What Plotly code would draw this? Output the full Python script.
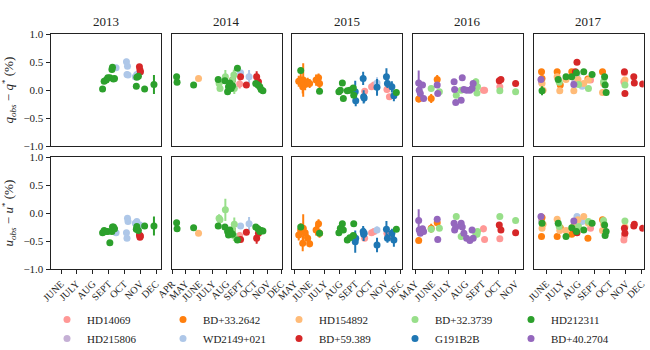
import plotly.graph_objects as go
from plotly.subplots import make_subplots

# ---------------- data ----------------
years = [2013, 2014, 2015, 2016, 2017]
year_ranges = [["2013-05-12", "2013-12-10"], ["2014-03-31", "2014-12-02"],
               ["2015-04-27", "2015-12-05"], ["2016-04-26", "2016-11-14"],
               ["2017-05-08", "2017-12-05"]]
year_tick_months = [[6, 7, 8, 9, 10, 11, 12], [4, 5, 6, 7, 8, 9, 10, 11, 12],
                    [5, 6, 7, 8, 9, 10, 11, 12], [5, 6, 7, 8, 9, 10, 11],
                    [6, 7, 8, 9, 10, 11, 12]]
month_names = {4: "APR", 5: "MAY", 6: "JUNE", 7: "JULY", 8: "AUG", 9: "SEPT",
               10: "OCT", 11: "NOV", 12: "DEC"}
y_ticks = [-1.0, -0.5, 0.0, 0.5, 1.0]

# HD14069
hd14069_dates = ["2014-08-30", "2015-09-20", "2015-10-04", "2015-10-09", "2015-11-04", "2015-11-09",
                 "2016-09-03", "2016-09-05", "2016-10-03", "2017-08-25", "2017-10-28", "2017-10-29"]
hd14069_q = [0.11, -0.02, 0.06, 0.09, 0.01, -0.12, 0.0, 0.0, 0.06, 0.18, 0.15, 0.31]
hd14069_qe = [0.08, 0.05, 0.05, 0.05, 0.05, 0.05, 0.04, 0.04, 0.04, 0.04, 0.05, 0.05]
hd14069_u = [-0.40, -0.45, -0.35, -0.33, -0.36, -0.43, -0.28, -0.47, -0.46, -0.27, -0.48, -0.41]
hd14069_ue = [0.05, 0.05, 0.05, 0.05, 0.05, 0.05, 0.06, 0.04, 0.04, 0.04, 0.05, 0.05]

# HD215806
hd215806_dates = ["2017-05-23", "2017-07-25"]
hd215806_q = [0.14, 0.13]
hd215806_qe = [0.04, 0.04]
hd215806_u = [-0.14, -0.22]
hd215806_ue = [0.04, 0.04]

# BD+33.2642
bd33_dates = ["2015-05-10", "2015-05-14", "2015-05-18", "2015-05-19", "2015-05-23", "2015-05-28",
              "2015-06-01", "2015-06-14", "2015-06-19", "2015-06-21",
              "2016-05-07", "2016-05-30", "2016-06-10",
              "2017-05-23", "2017-05-24", "2017-06-22", "2017-06-28", "2017-07-20", "2017-08-20", "2017-09-17"]
bd33_q = [0.16, 0.18, 0.06, 0.18, 0.10, 0.14, 0.12, 0.18, 0.22, 0.12,
          -0.16, -0.15, 0.19,
          0.33, 0.21, 0.33, 0.09, 0.33, 0.20, 0.33]
bd33_qe = [0.10, 0.12, 0.12, 0.30, 0.10, 0.08, 0.08, 0.10, 0.08, 0.10,
           0.06, 0.08, 0.08,
           0.04, 0.04, 0.04, 0.04, 0.04, 0.04, 0.04]
bd33_u = [-0.39, -0.30, -0.54, -0.27, -0.35, -0.45, -0.55, -0.30, -0.19, -0.36,
          -0.49, -0.27, -0.17,
          -0.42, -0.08, -0.42, -0.26, -0.38, -0.45, -0.12]
bd33_ue = [0.10, 0.12, 0.14, 0.25, 0.10, 0.08, 0.06, 0.10, 0.08, 0.08,
           0.05, 0.08, 0.04,
           0.04, 0.07, 0.04, 0.04, 0.04, 0.04, 0.04]

# WD2149+021
wd2149_dates = ["2013-09-15", "2013-10-05", "2013-10-06", "2013-10-07", "2013-10-08", "2013-10-22",
                "2013-10-25", "2013-10-31", "2014-09-01", "2014-09-20", "2015-10-15",
                "2017-07-30", "2017-08-09"]
wd2149_q = [0.40, 0.51, 0.28, 0.43, 0.27, 0.24, 0.28, 0.32, 0.31, 0.24, 0.13, 0.27, 0.07]
wd2149_qe = [0.05, 0.05, 0.05, 0.05, 0.05, 0.05, 0.05, 0.05, 0.05, 0.12, 0.10, 0.04, 0.04]
wd2149_u = [-0.35, -0.35, -0.45, -0.09, -0.15, -0.18, -0.15, -0.21, -0.23, -0.19, -0.30, -0.06, -0.15]
wd2149_ue = [0.05, 0.05, 0.05, 0.05, 0.05, 0.05, 0.05, 0.05, 0.05, 0.12, 0.06, 0.04, 0.04]

# HD154892
hd154892_dates = ["2014-05-30", "2017-05-24", "2017-05-26", "2017-06-22", "2017-06-27", "2017-07-09",
                  "2017-07-24", "2017-08-01", "2017-08-12", "2017-08-21", "2017-09-17", "2017-09-19",
                  "2017-10-30"]
hd154892_q = [0.21, 0.12, 0.00, 0.24, -0.01, 0.19, -0.01, 0.19, 0.12, 0.18, -0.04, 0.12, 0.18]
hd154892_qe = [0.03, 0.04, 0.04, 0.04, 0.04, 0.04, 0.04, 0.04, 0.04, 0.04, 0.04, 0.04, 0.04]
hd154892_u = [-0.36, -0.27, -0.20, -0.11, -0.31, -0.31, -0.22, -0.12, -0.06, -0.18, -0.31, -0.20, -0.25]
hd154892_ue = [0.03, 0.04, 0.04, 0.04, 0.04, 0.04, 0.04, 0.04, 0.04, 0.04, 0.04, 0.04, 0.04]

# BD+59.389
bd59_dates = ["2013-10-30", "2013-10-31", "2013-11-01",
              "2014-08-14", "2014-09-01", "2014-09-14", "2014-10-07", "2014-10-11",
              "2016-10-02", "2016-10-05", "2016-11-01",
              "2017-07-27", "2017-07-30", "2017-10-29", "2017-10-30", "2017-11-16", "2017-11-17", "2017-12-03"]
bd59_q = [0.42, 0.36, 0.33, 0.18, 0.24, 0.09, 0.24, 0.15, 0.17, 0.19, 0.12,
          0.33, 0.50, 0.33, -0.06, 0.24, 0.13, 0.11]
bd59_qe = [0.05, 0.05, 0.05, 0.05, 0.05, 0.05, 0.10, 0.05, 0.04, 0.04, 0.04,
           0.04, 0.04, 0.04, 0.04, 0.04, 0.04, 0.04]
bd59_u = [-0.39, -0.43, -0.41, -0.30, -0.47, -0.34, -0.45, -0.36, -0.21, -0.30, -0.35,
          -0.30, -0.35, -0.27, -0.36, -0.23, -0.20, -0.27]
bd59_ue = [0.05, 0.05, 0.05, 0.05, 0.05, 0.05, 0.10, 0.05, 0.05, 0.05, 0.04,
           0.04, 0.04, 0.05, 0.05, 0.04, 0.04, 0.04]

# BD+32.3739
bd32_dates = ["2014-07-15", "2014-07-17", "2014-07-29", "2014-08-14", "2014-08-17", "2014-08-18",
              "2016-05-30", "2016-06-14", "2016-07-15", "2016-07-24", "2016-08-20", "2016-08-22",
              "2016-08-23", "2016-10-03", "2016-11-01",
              "2017-06-26", "2017-08-02", "2017-08-21", "2017-09-19", "2017-10-30"]
bd32_q = [0.12, 0.03, 0.24, 0.18, 0.27, 0.03,
          0.03, -0.03, -0.09, 0.00, 0.15, -0.05, 0.06, -0.01, -0.03,
          0.14, 0.10, 0.03, 0.15, 0.09]
bd32_qe = [0.06, 0.05, 0.12, 0.05, 0.10, 0.10,
           0.05, 0.05, 0.05, 0.05, 0.06, 0.05, 0.05, 0.04, 0.04,
           0.04, 0.04, 0.04, 0.04, 0.04]
bd32_u = [-0.09, -0.12, 0.06, -0.30, -0.40, -0.20,
          -0.29, -0.27, -0.06, -0.42, -0.37, -0.38, -0.33, -0.06, -0.13,
          -0.24, -0.24, -0.15, -0.13, -0.14]
bd32_ue = [0.07, 0.05, 0.20, 0.05, 0.10, 0.12,
           0.05, 0.05, 0.05, 0.06, 0.06, 0.05, 0.05, 0.04, 0.04,
           0.04, 0.04, 0.04, 0.04, 0.04]

# G191B2B
g191_dates = ["2015-09-01", "2015-09-02", "2015-09-17", "2015-09-18", "2015-09-19", "2015-10-15",
              "2015-11-03", "2015-11-05", "2015-11-14", "2015-11-18"]
g191_q = [-0.03, -0.19, 0.21, -0.12, -0.14, 0.05, 0.24, 0.12, 0.06, -0.10]
g191_qe = [0.20, 0.10, 0.12, 0.12, 0.08, 0.15, 0.15, 0.08, 0.10, 0.10]
g191_u = [-0.51, -0.45, -0.33, -0.38, -0.36, -0.57, -0.29, -0.45, -0.36, -0.48]
g191_ue = [0.20, 0.08, 0.10, 0.12, 0.08, 0.13, 0.15, 0.08, 0.08, 0.12]

# HD212311
hd212311_dates = ["2013-08-20", "2013-08-23", "2013-08-27", "2013-08-30", "2013-09-03", "2013-09-07",
                  "2013-09-08", "2013-09-10", "2013-09-12", "2013-10-24", "2013-10-25", "2013-10-28",
                  "2013-11-09", "2013-11-27",
                  "2014-04-11", "2014-04-12", "2014-05-19", "2014-07-13", "2014-07-28", "2014-08-03",
                  "2014-08-05", "2014-08-08", "2014-08-11", "2014-08-14", "2014-08-25", "2014-10-05",
                  "2014-10-10", "2014-10-14", "2014-10-17", "2014-10-21",
                  "2015-05-14", "2015-06-21", "2015-07-30", "2015-08-02", "2015-08-06", "2015-08-08",
                  "2015-08-16", "2015-08-21", "2015-08-28", "2015-08-29", "2015-11-23",
                  "2017-05-24", "2017-06-24", "2017-07-09", "2017-07-20", "2017-07-29", "2017-08-12",
                  "2017-08-28", "2017-09-21", "2017-09-22", "2017-09-24"]
hd212311_q = [0.02, 0.16, 0.18, 0.22, 0.22, 0.37, 0.41, 0.20, 0.21, 0.07, 0.23, 0.25, 0.02, 0.10,
              0.24, 0.14, 0.09, 0.19, 0.17, -0.03, 0.06, 0.13, 0.03, 0.08, 0.39, 0.12, 0.09, 0.06, 0.01, -0.01,
              0.35, -0.02, -0.03, 0.00, 0.13, -0.15, -0.01, 0.00, 0.04, -0.09, -0.04,
              -0.01, 0.19, 0.24, 0.24, 0.31, 0.33, 0.28, 0.24, 0.09, -0.04]
hd212311_qe = [0.04, 0.04, 0.04, 0.04, 0.04, 0.05, 0.06, 0.04, 0.04, 0.05, 0.04, 0.04, 0.04, 0.17,
               0.04, 0.04, 0.03, 0.04, 0.04, 0.04, 0.04, 0.04, 0.04, 0.04, 0.04, 0.04, 0.04, 0.04, 0.04, 0.04,
               0.05, 0.04, 0.04, 0.04, 0.04, 0.04, 0.04, 0.04, 0.04, 0.04, 0.04,
               0.08, 0.04, 0.04, 0.04, 0.04, 0.04, 0.04, 0.05, 0.05, 0.05]
hd212311_u = [-0.35, -0.31, -0.33, -0.33, -0.53, -0.33, -0.25, -0.25, -0.28, -0.29, -0.24, -0.31, -0.23, -0.23,
              -0.17, -0.28, -0.26, -0.23, -0.25, -0.33, -0.39, -0.30, -0.36, -0.38, -0.48, -0.25, -0.28, -0.33,
              -0.31, -0.32,
              -0.25, -0.36, -0.35, -0.27, -0.19, -0.30, -0.48, -0.44, -0.40, -0.19, -0.29,
              -0.18, -0.18, -0.42, -0.26, -0.33, -0.30, -0.18, -0.21, -0.40, -0.33]
hd212311_ue = [0.04, 0.04, 0.04, 0.04, 0.05, 0.04, 0.04, 0.04, 0.04, 0.04, 0.04, 0.04, 0.04, 0.17,
               0.03, 0.03, 0.03, 0.04, 0.04, 0.04, 0.04, 0.04, 0.04, 0.04, 0.04, 0.04, 0.04, 0.04, 0.04, 0.04,
               0.04, 0.04, 0.04, 0.04, 0.04, 0.04, 0.04, 0.04, 0.04, 0.04, 0.04,
               0.05, 0.04, 0.04, 0.04, 0.04, 0.04, 0.04, 0.05, 0.05, 0.05]

# BD+40.2704
bd40_dates = ["2016-05-07", "2016-05-08", "2016-05-10", "2016-05-14", "2016-05-16", "2016-06-10",
              "2016-06-11", "2016-07-11", "2016-07-12", "2016-07-14", "2016-07-24", "2016-07-26",
              "2016-07-29", "2016-08-03", "2016-08-09", "2016-08-13", "2016-08-15",
              "2017-05-22", "2017-07-24"]
bd40_q = [0.13, 0.00, -0.06, 0.09, -0.15, 0.09, -0.06, 0.15, 0.01, -0.22, -0.18, 0.22,
          0.01, 0.00, 0.00, 0.03, 0.12, 0.19, 0.10]
bd40_qe = [0.22, 0.05, 0.05, 0.05, 0.05, 0.04, 0.04, 0.04, 0.04, 0.04, 0.04, 0.04,
           0.04, 0.04, 0.04, 0.04, 0.04, 0.04, 0.04]
bd40_u = [-0.13, -0.30, -0.36, -0.28, -0.33, -0.11, -0.47, -0.18, -0.30, -0.25, -0.18, -0.25,
          -0.36, -0.45, -0.49, -0.30, -0.45, -0.06, -0.14]
bd40_ue = [0.20, 0.05, 0.05, 0.05, 0.05, 0.04, 0.04, 0.04, 0.04, 0.04, 0.04, 0.04,
           0.04, 0.04, 0.04, 0.04, 0.04, 0.04, 0.04]

star_names = ["HD14069", "HD215806", "BD+33.2642", "WD2149+021", "HD154892",
              "BD+59.389", "BD+32.3739", "G191B2B", "HD212311", "BD+40.2704"]
star_colors = ["#ff9896", "#c5b0d5", "#ff7f0e", "#aec7e8", "#ffbb78",
               "#d62728", "#98df8a", "#1f77b4", "#2ca02c", "#9467bd"]
legend_ranks = [1, 6, 2, 7, 3, 8, 4, 9, 5, 10]
star_data = [
    (hd14069_dates, hd14069_q, hd14069_qe, hd14069_u, hd14069_ue),
    (hd215806_dates, hd215806_q, hd215806_qe, hd215806_u, hd215806_ue),
    (bd33_dates, bd33_q, bd33_qe, bd33_u, bd33_ue),
    (wd2149_dates, wd2149_q, wd2149_qe, wd2149_u, wd2149_ue),
    (hd154892_dates, hd154892_q, hd154892_qe, hd154892_u, hd154892_ue),
    (bd59_dates, bd59_q, bd59_qe, bd59_u, bd59_ue),
    (bd32_dates, bd32_q, bd32_qe, bd32_u, bd32_ue),
    (g191_dates, g191_q, g191_qe, g191_u, g191_ue),
    (hd212311_dates, hd212311_q, hd212311_qe, hd212311_u, hd212311_ue),
    (bd40_dates, bd40_q, bd40_qe, bd40_u, bd40_ue),
]

# ---------------- figure ----------------
W, H = 650, 350
FONT = "Liberation Serif"
fig = make_subplots(rows=2, cols=5)

col_px = [(50.7, 160.7), (171.7, 281.7), (292.3, 402.3), (412.7, 522.7), (533.7, 643.7)]
row_px = [(34.3, 146.0), (157.3, 269.0)]

for si, name in enumerate(star_names):
    dates, q, qe, u, ue = star_data[si]
    color = star_colors[si]
    first = True
    for ri, (vals, errs) in enumerate([(q, qe), (u, ue)]):
        for ci, yr in enumerate(years):
            idx = [k for k, d in enumerate(dates) if d.startswith(str(yr))]
            if not idx:
                continue
            fig.add_trace(go.Scatter(
                x=[dates[k] for k in idx], y=[vals[k] for k in idx],
                mode="markers", name=name, legendgroup=name,
                legendrank=legend_ranks[si], showlegend=first,
                marker=dict(color=color, size=7, line=dict(width=0)),
                error_y=dict(type="data", array=[errs[k] for k in idx],
                             color=color, thickness=2, width=0),
            ), row=ri + 1, col=ci + 1)
            first = False

for ri in range(2):
    for ci in range(5):
        n = ri * 5 + ci + 1
        xa = "xaxis" if n == 1 else f"xaxis{n}"
        ya = "yaxis" if n == 1 else f"yaxis{n}"
        x0, x1 = col_px[ci]
        y0, y1 = row_px[ri]
        yr = years[ci]
        tv = [f"{yr}-{m:02d}-01" for m in year_tick_months[ci]]
        tt = [month_names[m] for m in year_tick_months[ci]]
        fig.layout[xa].update(
            domain=[x0 / W, x1 / W], type="date", range=year_ranges[ci],
            showgrid=False, zeroline=False, showline=True, mirror=True,
            linecolor="#222", linewidth=1.3,
            tickmode="array", tickvals=tv, ticktext=tt,
            ticks="outside" if ri == 1 else "", ticklen=4, tickwidth=1, tickcolor="#222",
            showticklabels=(ri == 1), tickangle=-45,
            tickfont=dict(family=FONT, size=10, color="#222"),
        )
        fig.layout[ya].update(
            domain=[1 - y1 / H, 1 - y0 / H], range=[-1, 1],
            showgrid=False, zeroline=False, showline=True, mirror=True,
            linecolor="#222", linewidth=1.3,
            tickmode="array", tickvals=y_ticks, tickformat=".1f",
            ticks="outside" if ci == 0 else "", ticklen=4, tickwidth=1, tickcolor="#222",
            showticklabels=(ci == 0),
            tickfont=dict(family=FONT, size=11, color="#222"),
        )
        if ci == 0:
            ttl = ("<i>q</i><sub><i>obs</i></sub> − <i>q</i><sup>*</sup> (%)" if ri == 0
                   else "<i>u</i><sub><i>obs</i></sub> − <i>u</i><sup>*</sup> (%)")
            fig.layout[ya].update(title=dict(text=ttl, standoff=6,
                                             font=dict(family=FONT, size=13, color="#222")))

for ci, yr in enumerate(years):
    x0, x1 = col_px[ci]
    fig.add_annotation(x=(x0 + x1) / 2 / W, y=1 - 22 / H, xref="paper", yref="paper",
                       xanchor="center", yanchor="middle",
                       text=str(yr), showarrow=False,
                       font=dict(family=FONT, size=13, color="#222"))

fig.update_layout(
    width=W, height=H,
    margin=dict(l=0, r=0, t=0, b=0, autoexpand=False),
    plot_bgcolor="white", paper_bgcolor="white",
    font=dict(family=FONT, color="#222"),
    legend=dict(orientation="h", xref="container", yref="container",
                x=47 / W, xanchor="left", y=1 - 305 / H, yanchor="top",
                entrywidth=71, entrywidthmode="pixels",
                font=dict(family=FONT, size=11, color="#222"),
                bgcolor="rgba(0,0,0,0)", tracegroupgap=0),
)

fig.write_html("out.html", config={"displayModeBar": False},
               post_script="document.body.style.margin='0';")
